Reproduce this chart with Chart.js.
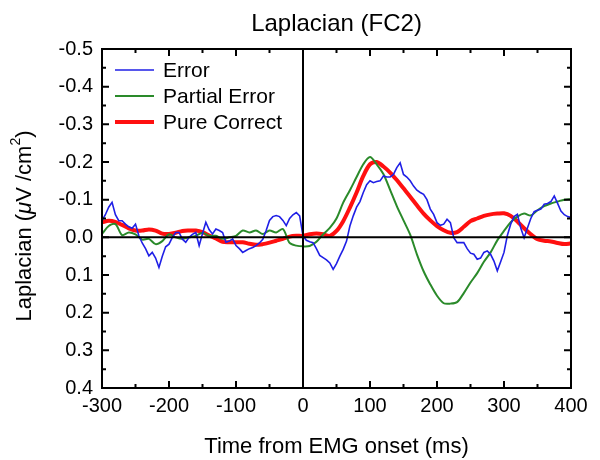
<!DOCTYPE html>
<html>
<head>
<meta charset="utf-8">
<script src="https://cdn.jsdelivr.net/npm/chart.js@4/dist/chart.umd.min.js"></script>
<style>
  html, body { margin: 0; padding: 0; background: #fff; }
  #wrap { width: 600px; height: 460px; }
</style>
</head>
<body>
<div id="wrap"><canvas id="lap" width="600" height="460"></canvas></div>
<script>
// sample times (ms from EMG onset)
const timeFine = Array.from({ length: 141 }, (_, i) => -300 + 5 * i);   // Error, 5 ms
const timeCoarse = Array.from({ length: 71 }, (_, i) => -300 + 10 * i); // others, 10 ms

// Laplacian values (µV/cm²)
const errorVals = [
  -0.044, -0.06, -0.08, -0.093, -0.06, -0.044, -0.044, -0.035, -0.028, -0.024,
  -0.035, -0.004, 0.015, 0.03, 0.049, 0.04, 0.055, 0.08, 0.05, 0.025,
  0.018, 0.0, -0.013, -0.013, 0.005, 0.013, 0.0, -0.008, -0.013, 0.022,
  -0.01, -0.04, -0.02, -0.009, -0.022, -0.018, -0.013, 0.013, 0.01, 0.004,
  0.022, 0.03, 0.04, 0.035, 0.03, 0.027, 0.022, 0.015, 0.005, -0.018,
  -0.045, -0.055, -0.058, -0.055, -0.045, -0.031, -0.05, -0.06, -0.066, -0.057,
  -0.004, 0.008, 0.012, 0.014, 0.03, 0.048, 0.054, 0.06, 0.068, 0.085,
  0.07, 0.05, 0.032, 0.01, -0.03, -0.057, -0.08, -0.095, -0.119, -0.14,
  -0.15, -0.145, -0.148, -0.15, -0.163, -0.16, -0.16, -0.167, -0.185, -0.198,
  -0.167, -0.16, -0.15, -0.136, -0.125, -0.119, -0.114, -0.1, -0.075, -0.061,
  -0.039, -0.032, -0.035, -0.048, -0.039, 0.001, 0.014, 0.014, 0.014, 0.03,
  0.042, 0.045, 0.058, 0.055, 0.04, 0.036, 0.045, 0.063, 0.089, 0.065,
  0.04, -0.005, -0.035, -0.055, -0.061, -0.025, 0.001, -0.025, -0.05, -0.068,
  -0.072, -0.075, -0.088, -0.09, -0.095, -0.11, -0.09, -0.07, -0.06, -0.055,
  -0.053
];

const partialVals = [
  -0.009, -0.03, -0.035, -0.006, -0.013, -0.008, 0.006, 0.004, 0.018, 0.01,
  -0.008, 0.0, 0.004, 0.0, -0.004, -0.012, -0.004, -0.004, 0.004, 0.0,
  -0.004, -0.018, -0.013, -0.018, -0.009, -0.018, -0.013, -0.022, 0.015, 0.022,
  0.024, 0.023, 0.012, -0.008, -0.025, -0.05, -0.092, -0.125, -0.16, -0.194,
  -0.213, -0.194, -0.168, -0.126, -0.083, -0.045, -0.007, 0.045, 0.09, 0.125,
  0.155, 0.175, 0.176, 0.172, 0.148, 0.12, 0.095, 0.065, 0.04, 0.008,
  -0.017, -0.04, -0.055, -0.063, -0.058, -0.072, -0.083, -0.09, -0.095, -0.1,
  -0.101
];

const correctVals = [
  -0.04, -0.044, -0.041, -0.033, -0.024, -0.018, -0.018, -0.021, -0.018, -0.01,
  -0.009, -0.012, -0.017, -0.018, -0.018, -0.014, -0.005, 0.003, 0.012, 0.013,
  0.013, 0.013, 0.017, 0.02, 0.018, 0.014, 0.009, 0.004, -0.002, -0.004,
  -0.004, -0.008, -0.01, -0.008, -0.004, -0.017, -0.043, -0.079, -0.119, -0.163,
  -0.194, -0.2, -0.188, -0.172, -0.152, -0.13, -0.108, -0.085, -0.063, -0.045,
  -0.03, -0.019, -0.012, -0.014, -0.028, -0.043, -0.05, -0.057, -0.061, -0.063,
  -0.064, -0.057, -0.042, -0.024, -0.008, 0.005, 0.009, 0.011, 0.015, 0.018,
  0.016
];

const FONT = "'Liberation Sans', Arial, Helvetica, sans-serif";

function pts(times, vals) {
  return times.map((t, i) => ({ x: t, y: vals[i] }));
}

// frame, zero lines, inward ticks, legend and titles
const decor = {
  id: "decor",
  afterDatasetsDraw(chart) {
    const { ctx, chartArea: a, scales } = chart;
    const sx = scales.x, sy = scales.y;
    ctx.save();
    ctx.strokeStyle = "#000";
    ctx.lineWidth = 2;

    // zero lines
    const y0 = sy.getPixelForValue(0);
    const x0 = sx.getPixelForValue(0);
    ctx.beginPath();
    ctx.moveTo(a.left, y0); ctx.lineTo(a.right, y0);
    ctx.moveTo(x0, a.top); ctx.lineTo(x0, a.bottom);
    ctx.stroke();

    ctx.strokeRect(a.left, a.top, a.right - a.left, a.bottom - a.top);

    // ticks, all four sides
    ctx.beginPath();
    for (let t = -300; t <= 400; t += 50) {
      const px = sx.getPixelForValue(t);
      const len = t % 100 === 0 ? 7 : 4;
      ctx.moveTo(px, a.bottom); ctx.lineTo(px, a.bottom - len);
      ctx.moveTo(px, a.top); ctx.lineTo(px, a.top + len);
    }
    for (let k = -10; k <= 8; k++) {
      const py = sy.getPixelForValue(k * 0.05);
      const len = k % 2 === 0 ? 7 : 4;
      ctx.moveTo(a.left, py); ctx.lineTo(a.left + len, py);
      ctx.moveTo(a.right, py); ctx.lineTo(a.right - len, py);
    }
    ctx.stroke();

    // legend
    ctx.textAlign = "left";
    ctx.textBaseline = "middle";
    ctx.font = "21px " + FONT;
    chart.data.datasets.forEach((ds, i) => {
      const ly = a.top + 21 + i * 26;
      ctx.strokeStyle = ds.borderColor;
      ctx.lineWidth = ds.borderWidth;
      ctx.beginPath();
      ctx.moveTo(a.left + 13, ly); ctx.lineTo(a.left + 52, ly);
      ctx.stroke();
      ctx.fillStyle = "#000";
      ctx.fillText(ds.label, a.left + 61, ly + 1);
    });

    // chart title
    ctx.fillStyle = "#000";
    ctx.textAlign = "center";
    ctx.textBaseline = "middle";
    ctx.font = "24px " + FONT;
    ctx.fillText("Laplacian (FC2)", (a.left + a.right) / 2, 24);

    // x title
    ctx.font = "22px " + FONT;
    ctx.fillText("Time from EMG onset (ms)", (a.left + a.right) / 2, 447);

    // y title with italic mu and superscript
    const parts = [
      { s: "Laplacian (", f: "22px " + FONT, dy: 0 },
      { s: "\u03BC", f: "italic 22px " + FONT, dy: 0 },
      { s: "V /cm", f: "22px " + FONT, dy: 0 },
      { s: "2", f: "14px " + FONT, dy: -9 },
      { s: ")", f: "22px " + FONT, dy: 0 }
    ];
    let total = 0;
    parts.forEach(p => { ctx.font = p.f; p.w = ctx.measureText(p.s).width; total += p.w; });
    ctx.translate(25, 226);
    ctx.rotate(-Math.PI / 2);
    ctx.textAlign = "left";
    let cx = -total / 2;
    parts.forEach(p => {
      ctx.font = p.f;
      ctx.fillText(p.s, cx, p.dy);
      cx += p.w;
    });
    ctx.restore();
  }
};

new Chart(document.getElementById("lap"), {
  type: "line",
  data: {
    datasets: [
      {
        label: "Error",
        data: pts(timeFine, errorVals),
        borderColor: "#1f1fe6",
        borderWidth: 1.6,
        pointRadius: 0,
        tension: 0
      },
      {
        label: "Partial Error",
        data: pts(timeCoarse, partialVals),
        borderColor: "#2a8a2a",
        borderWidth: 2,
        pointRadius: 0,
        tension: 0.3
      },
      {
        label: "Pure Correct",
        data: pts(timeCoarse, correctVals),
        borderColor: "#ff1010",
        borderWidth: 4,
        pointRadius: 0,
        tension: 0.3
      }
    ]
  },
  options: {
    responsive: false,
    animation: false,
    events: [],
    layout: { padding: { left: 0, right: 29, top: 49, bottom: 0 } },
    plugins: {
      legend: { display: false },
      title: { display: false },
      tooltip: { enabled: false }
    },
    scales: {
      x: {
        type: "linear",
        min: -300,
        max: 400,
        grid: { display: false, drawTicks: false },
        border: { display: false },
        ticks: {
          stepSize: 100,
          padding: 6,
          maxRotation: 0,
          color: "#000",
          font: { family: FONT, size: 20 }
        },
        afterFit: s => { s.height = 72; }
      },
      y: {
        reverse: true,
        min: -0.5,
        max: 0.4,
        grid: { display: false, drawTicks: false },
        border: { display: false },
        ticks: {
          stepSize: 0.1,
          padding: 9,
          color: "#000",
          font: { family: FONT, size: 20 },
          callback: v => (Math.abs(v) < 1e-9 ? 0 : v).toFixed(1)
        },
        afterFit: s => { s.width = 102; }
      }
    }
  },
  plugins: [decor]
});
</script>
</body>
</html>
